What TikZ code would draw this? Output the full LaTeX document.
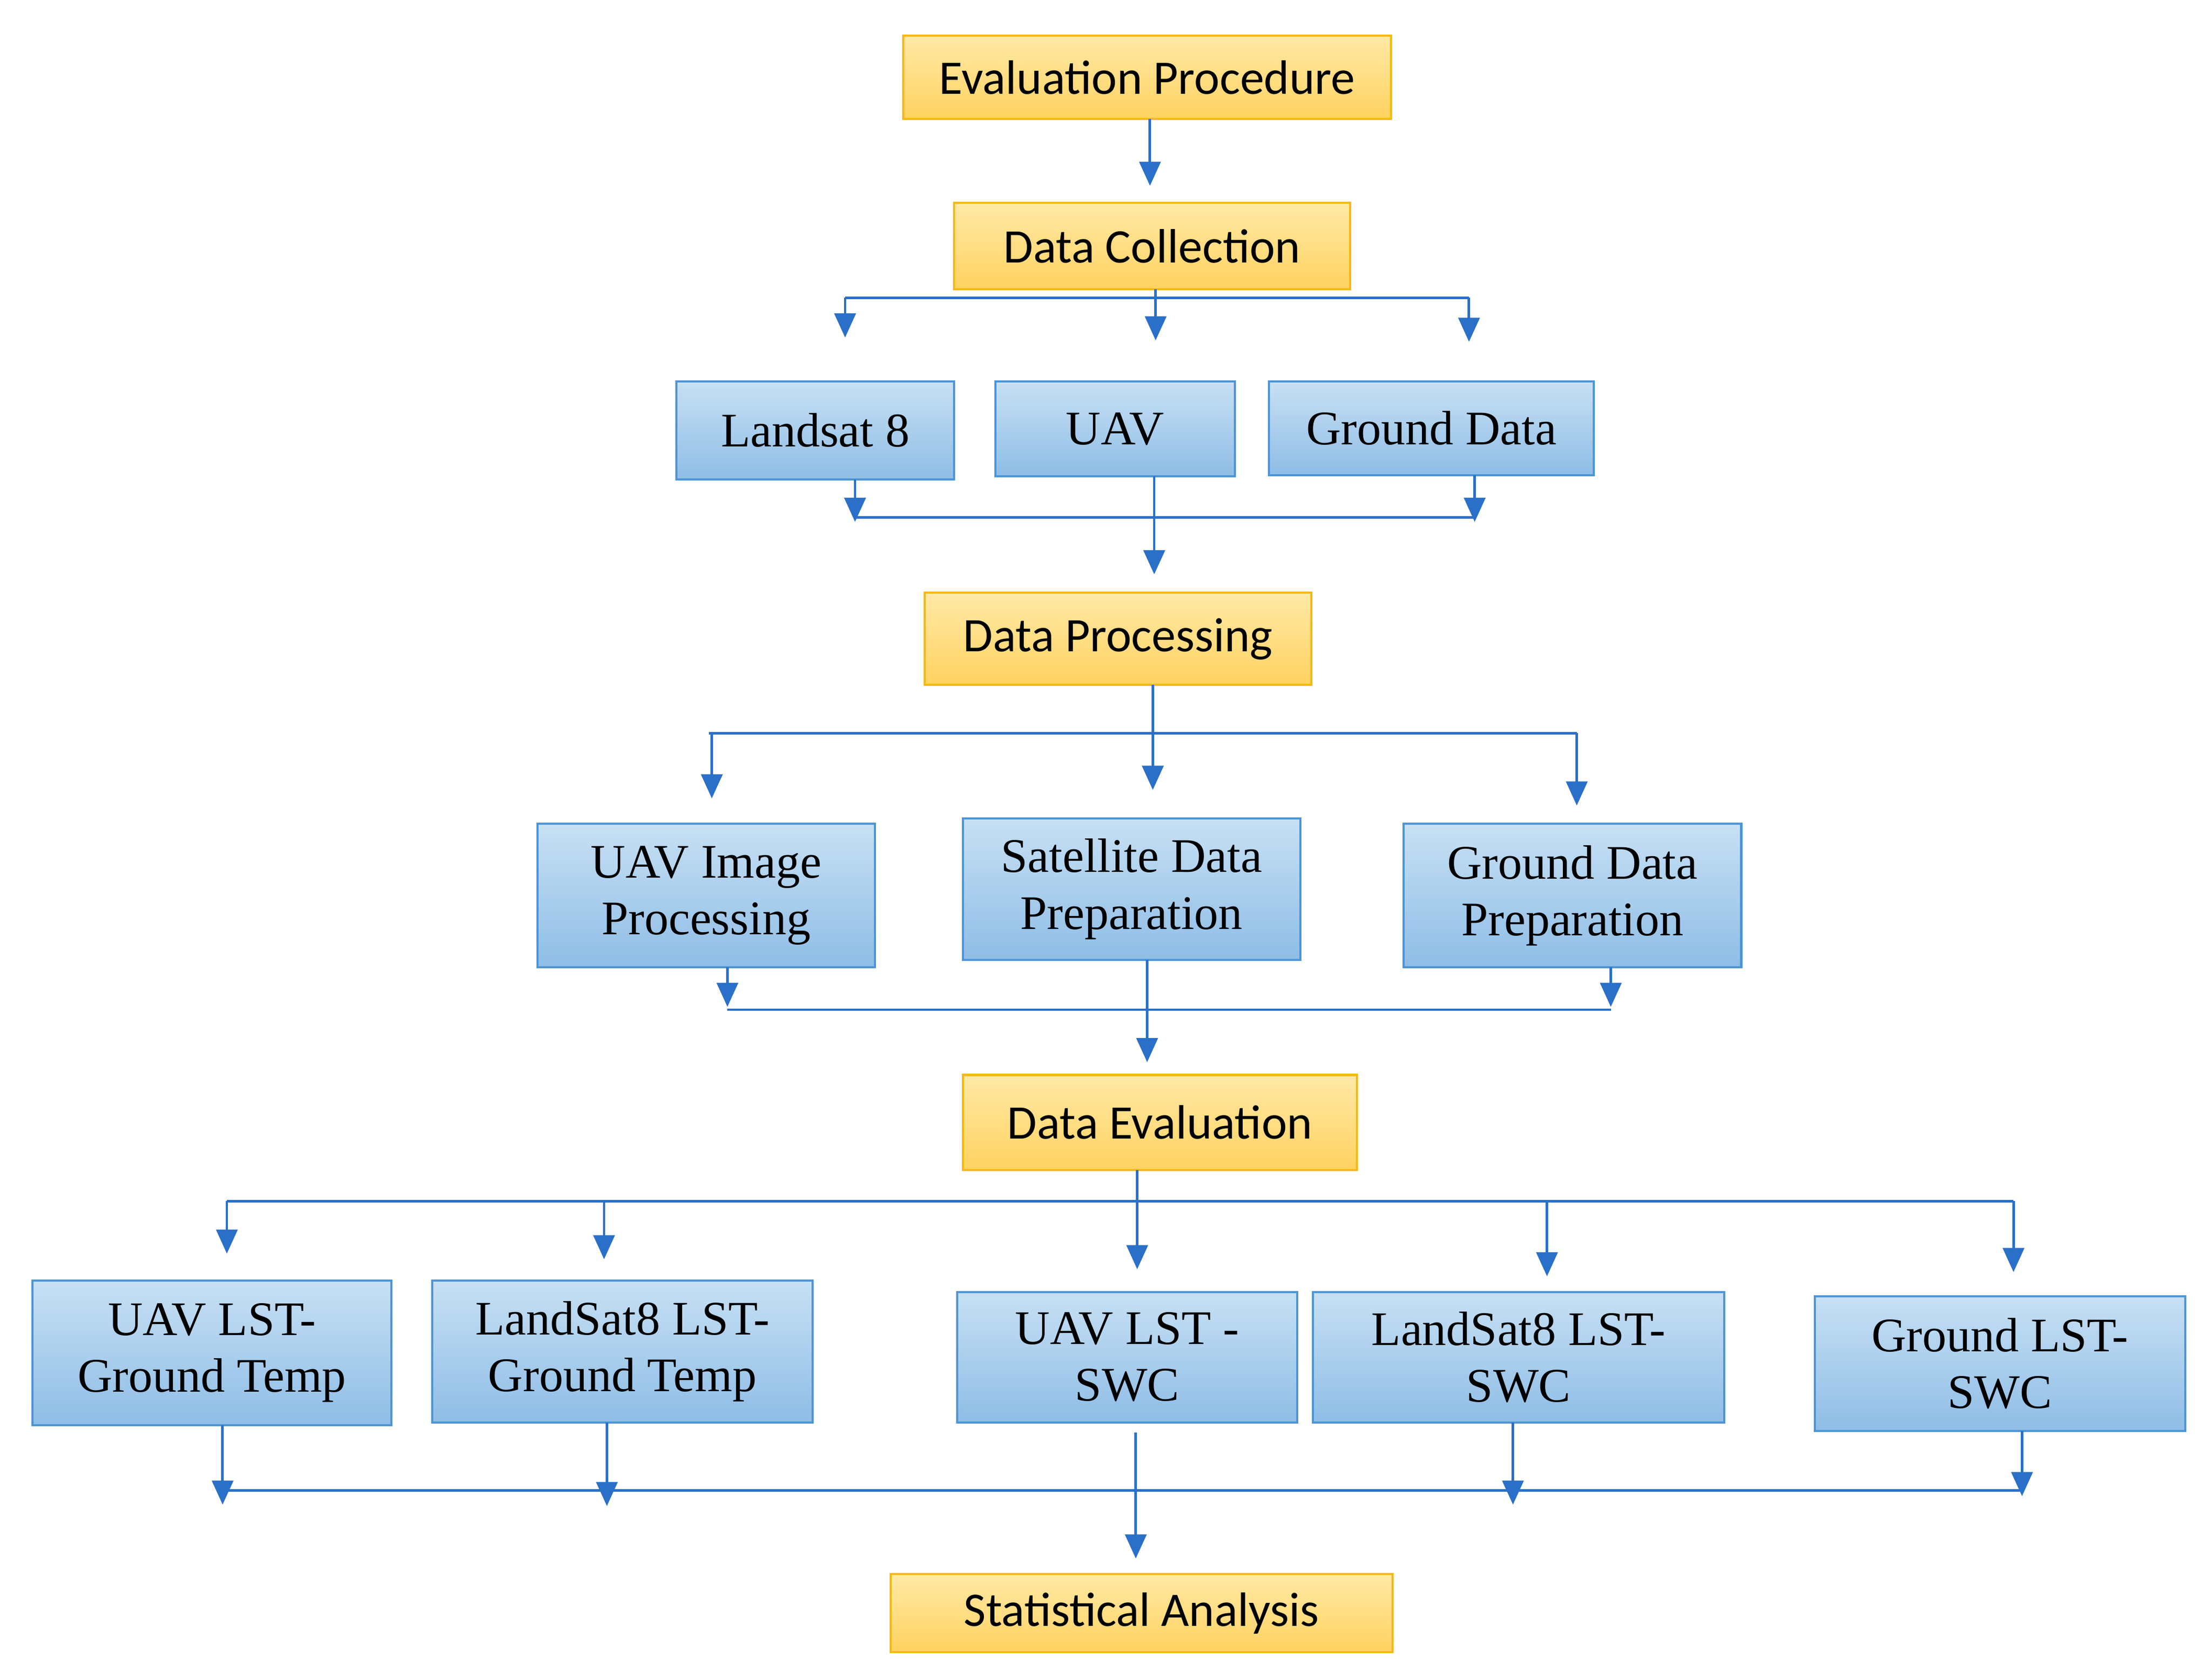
\documentclass[tikz,border=0pt]{standalone}
\usepackage{fontspec}
\setmainfont{Liberation Serif}
\newfontfamily\calib{Carlito}
\usetikzlibrary{arrows.meta}
\definecolor{obord}{HTML}{F5B915}
\definecolor{otop}{HTML}{FFE9A6}
\definecolor{obot}{HTML}{FFD260}
\definecolor{bbord}{HTML}{4E95D6}
\definecolor{btop}{HTML}{C7E0F4}
\definecolor{bbot}{HTML}{8FBDE6}
\definecolor{arr}{HTML}{2A70C8}
\tikzset{
 ob/.style={draw=obord,line width=1.5pt,top color=otop,bottom color=obot,font=\calib\fontsize{34}{38}\selectfont,inner sep=0pt},
 bb/.style={draw=bbord,line width=1.5pt,top color=btop,bottom color=bbot,font=\fontsize{34}{40}\selectfont,align=center,inner sep=0pt},
 ln/.style={draw=arr,line width=1.8pt},
 ar/.style={ln,-{Triangle[length=17pt,width=15pt]}}
}
\newcommand{\bx}[7]{\node[#1,minimum width={#5-#3},minimum height={#6-#4}] (#2) at ({(#3+#5)/2},{(#4+#6)/2}) {#7};}
\begin{document}
\begin{tikzpicture}[x=1pt,y=-1pt]
\useasboundingbox (0,0) rectangle (1560,1179);
\bx{ob}{ev}{637}{25}{981}{84}{Evaluation Procedure}
\bx{ob}{dc}{673}{143}{952}{204}{Data Collection}
\bx{bb}{ls}{477}{269}{673}{338}{Landsat 8}
\bx{bb}{uav}{702}{269}{871}{336}{UAV}
\bx{bb}{gd}{895}{269}{1124}{335}{Ground Data}
\bx{ob}{dp}{652}{418}{925}{483}{Data Processing}
\bx{bb}{uip}{379}{581}{617}{682}{UAV Image\\Processing}
\bx{bb}{sdp}{679}{577}{917}{677}{Satellite Data\\Preparation}
\bx{bb}{gdp}{990}{581}{1228}{682}{Ground Data\\Preparation}
\bx{ob}{de}{679}{758}{957}{825}{Data Evaluation}
\bx{bb}{r1}{23}{903}{276}{1005}{UAV LST-\\Ground Temp}
\bx{bb}{r2}{305}{903}{573}{1003}{LandSat8 LST-\\Ground Temp}
\bx{bb}{r3}{675}{911}{915}{1003}{UAV LST -\\SWC}
\bx{bb}{r4}{926}{911}{1216}{1003}{LandSat8 LST-\\SWC}
\bx{bb}{r5}{1280}{914}{1541}{1009}{Ground LST-\\SWC}
\bx{ob}{sa}{628}{1110}{982}{1165}{Statistical Analysis}
% level 1
\draw[ar] (811,84) -- (811,131);
% level 2
\coordinate (b1l) at (596,210); \coordinate (b1r) at (1036,210);
\draw[ln] (b1l) -- (b1r);
\draw[ar] (815,204) -- (815,240);
\draw[ar] (b1l) -- (596,238);
\draw[ar] (b1r) -- (1036,241);
% level 3
\coordinate (b2l) at (603,365); \coordinate (b2r) at (1040,365);
\draw[ln] (b2l) -- (b2r);
\draw[ar] (603,338) -- (603,368);
\draw[ar] (1040,335) -- (1040,368);
\draw[ar] (814,336) -- (814,405);
% level 4
\coordinate (b3l) at (500,517); \coordinate (b3r) at (1112,517);
\draw[ln] (b3l) -- (b3r);
\draw[ar] (813,483) -- (813,557);
\draw[ar] (502,517) -- (502,563);
\draw[ar] (b3r) -- (1112,568);
% level 5
\coordinate (b4l) at (513,712); \coordinate (b4r) at (1136,712);
\draw[ln] (b4l) -- (b4r);
\draw[ar] (513,682) -- (513,710);
\draw[ar] (1136,682) -- (1136,710);
\draw[ar] (809,677) -- (809,749);
% level 6
\coordinate (b5l) at (160,847); \coordinate (b5r) at (1420,847);
\draw[ln] (b5l) -- (b5r);
\draw[ar] (802,825) -- (802,895);
\draw[ar] (b5l) -- (160,884);
\draw[ar] (426,847) -- (426,888);
\draw[ar] (1091,847) -- (1091,900);
\draw[ar] (b5r) -- (1420,897);
% level 7
\coordinate (b6l) at (157,1051); \coordinate (b6r) at (1426,1051);
\draw[ln] (b6l) -- (b6r);
\draw[ar] (157,1005) -- (157,1061);
\draw[ar] (428,1003) -- (428,1062);
\draw[ar] (1067,1003) -- (1067,1061);
\draw[ar] (1426,1009) -- (1426,1055);
\draw[ar] (801,1010) -- (801,1099);
\end{tikzpicture}
\end{document}
